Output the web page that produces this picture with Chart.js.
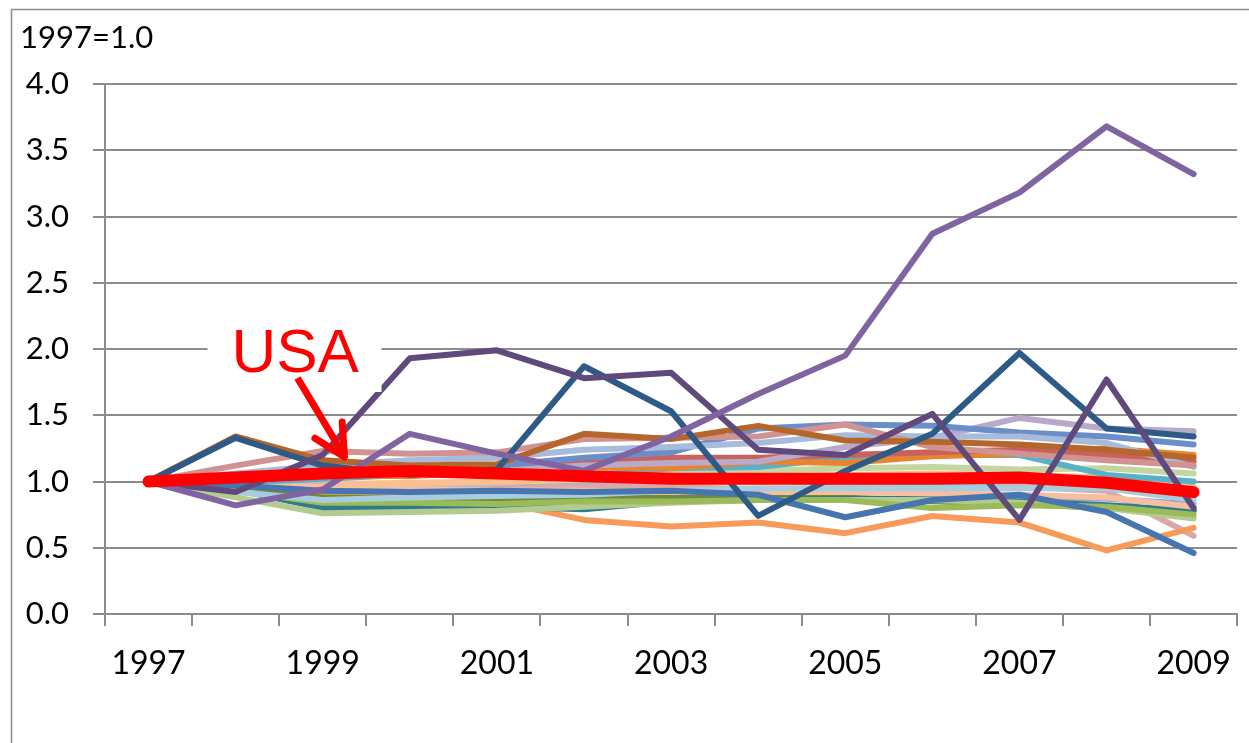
<!DOCTYPE html>
<html>
<head>
<meta charset="utf-8">
<script src="https://cdn.jsdelivr.net/npm/chart.js@4.4.1/dist/chart.umd.min.js"></script>
<style>
  html, body { margin: 0; padding: 0; background: #fff; }
  #wrap { width: 1249px; height: 743px; }
</style>
</head>
<body>
<div id="wrap"><canvas id="chart" width="1249" height="743"></canvas></div>
<script>
// index values, 1997 = 1.0
const years = ['1997','1998','1999','2000','2001','2002','2003','2004','2005','2006','2007','2008','2009'];
const yTicks = [0, 0.5, 1, 1.5, 2, 2.5, 3, 3.5, 4];
const baseNote = '1997=1.0';

const usa         = [1.00,1.03,1.06,1.08,1.06,1.04,1.02,1.02,1.02,1.02,1.03,0.99,0.92];
const purpleRise  = [1.00,0.82,0.94,1.36,1.21,1.08,1.34,1.66,1.95,2.87,3.18,3.68,3.32];
const darkPurple  = [1.00,0.92,1.20,1.93,1.99,1.78,1.82,1.24,1.20,1.51,0.71,1.77,0.80];
const darkBlue    = [1.00,1.33,1.12,1.05,1.09,1.87,1.53,0.74,1.08,1.36,1.97,1.40,1.34];
const steelBlue   = [1.00,0.97,0.93,0.92,0.93,0.92,0.93,0.90,0.73,0.86,0.90,0.77,0.46];
const brown       = [1.00,1.34,1.16,1.12,1.13,1.36,1.32,1.42,1.31,1.30,1.28,1.24,1.18];
const dustyPink   = [1.00,1.12,1.23,1.21,1.22,1.32,1.33,1.34,1.43,1.26,1.21,1.16,1.12];
const lightSteel  = [1.00,1.06,1.12,1.16,1.18,1.24,1.26,1.29,1.35,1.34,1.34,1.29,1.11];
const cornflower  = [1.00,1.04,1.08,1.10,1.12,1.18,1.22,1.40,1.43,1.42,1.37,1.34,1.28];
const lavender    = [1.00,1.02,1.05,1.06,1.08,1.12,1.14,1.15,1.26,1.33,1.48,1.40,1.38];
const salmon      = [1.00,1.03,1.07,1.09,1.10,1.14,1.18,1.18,1.20,1.22,1.24,1.20,1.15];
const orange      = [1.00,1.02,1.05,1.04,1.08,1.11,1.10,1.15,1.14,1.19,1.21,1.25,1.20];
const cyan        = [1.00,0.99,1.02,1.05,1.07,1.04,1.10,1.11,1.18,1.20,1.20,1.05,1.00];
const lightGreen  = [1.00,1.05,1.10,1.10,1.09,1.07,1.07,1.08,1.10,1.11,1.09,1.10,1.06];
const lightBlue   = [1.00,0.92,0.86,0.88,0.89,0.90,0.93,0.95,0.95,0.95,0.95,0.95,0.86];
const peach       = [1.00,0.97,0.96,0.94,0.93,0.93,0.92,0.92,0.92,0.91,0.90,0.88,0.81];
const green       = [1.00,0.93,0.84,0.84,0.83,0.85,0.85,0.86,0.86,0.80,0.82,0.81,0.75];
const sage        = [1.00,0.88,0.76,0.77,0.78,0.81,0.84,0.86,0.86,0.86,0.84,0.80,0.72];
const darkTeal    = [1.00,0.94,0.80,0.80,0.81,0.79,0.85,0.86,0.87,0.87,0.85,0.82,0.78];
const olive       = [1.00,0.95,0.88,0.87,0.86,0.88,0.88,0.89,0.88,0.85,0.83,0.80,0.78];
const orangeLow   = [1.00,0.97,0.92,0.89,0.85,0.71,0.66,0.69,0.61,0.74,0.69,0.48,0.65];
const pinkLow     = [1.00,0.98,0.97,0.90,0.95,0.96,0.96,0.94,0.95,0.94,0.96,0.93,0.59];
const periwinkle  = [1.00,0.95,0.90,0.89,0.88,0.88,0.87,0.86,0.86,0.86,0.88,0.87,0.83];
const skyBlue     = [1.00,0.96,0.91,0.93,0.95,0.97,1.00,1.01,0.99,0.98,0.97,0.96,0.88];
const lightOrange = [1.00,0.99,0.98,0.99,1.00,1.01,1.02,1.04,1.05,1.06,1.05,1.03,0.96];
const rose        = [1.00,1.01,0.99,0.97,0.98,0.99,1.00,1.00,1.01,1.02,1.01,0.98,0.90];

// arrow tip of the USA callout, in data units (category index, value)
const usaNote = { text: 'USA', at: 2.25, value: 1.185 };

// first one is drawn on top
const series = [
  [usa, '#ff0000', 12],
  [purpleRise, '#8064a2'], [darkPurple, '#604a7b'], [darkBlue, '#2e5a87'],
  [steelBlue, '#4775b0'], [brown, '#b5672b'], [dustyPink, '#d09391'],
  [lightSteel, '#a7bbdb'], [cornflower, '#6a8fc8'], [lavender, '#b9aac9'],
  [salmon, '#c9625f'], [orange, '#e8842f'], [cyan, '#5bb0c9'],
  [lightGreen, '#c4d6a0'], [lightBlue, '#a6ccdd'], [peach, '#f6c0a0'],
  [green, '#9bbb59'], [sage, '#b3cb90'], [darkTeal, '#2f7a8c'],
  [olive, '#6e8a3a'], [orangeLow, '#f79b5a'], [pinkLow, '#dba8a8'],
  [periwinkle, '#8fa3d1'], [skyBlue, '#8cc2d8'], [lightOrange, '#fac08f'],
  [rose, '#e6b9b8']
];

const gray = '#8c8c8c';

const notes = {
  id: 'notes',
  beforeDraw(chart) {
    const c = chart.ctx;
    c.save();
    c.strokeStyle = gray;
    c.lineWidth = 1.5;
    c.strokeRect(11.5, 9.5, 1400, 900);
    c.fillStyle = '#000';
    c.font = '31px Lato';
    c.textBaseline = 'alphabetic';
    c.fillText(baseNote, 20, 48);
    c.restore();
  },
  afterDatasetsDraw(chart) {
    const c = chart.ctx;
    const tx = chart.scales.x.getPixelForValue(usaNote.at);
    const ty = chart.scales.y.getPixelForValue(usaNote.value);
    const sx = tx - 47, sy = ty - 79;
    c.save();
    // white text box
    c.fillStyle = '#fff';
    c.fillRect(sx - 90, sy - 62, 174, 76);
    c.fillStyle = '#ff0000';
    c.font = '62px "Liberation Sans", Arial, sans-serif';
    c.fillText(usaNote.text, sx - 66, sy - 6);
    // arrow
    c.strokeStyle = '#ff0000';
    c.lineWidth = 7;
    c.lineCap = 'butt';
    c.beginPath();
    c.moveTo(sx, sy);
    c.lineTo(tx - 2, ty - 4);
    c.stroke();
    const ang = Math.atan2(sy - ty, sx - tx);
    c.lineCap = 'round';
    c.lineJoin = 'round';
    c.beginPath();
    c.moveTo(tx + 35 * Math.cos(ang - 0.47), ty + 35 * Math.sin(ang - 0.47));
    c.lineTo(tx, ty);
    c.lineTo(tx + 35 * Math.cos(ang + 0.47), ty + 35 * Math.sin(ang + 0.47));
    c.stroke();
    c.restore();
  }
};

new Chart(document.getElementById('chart'), {
  type: 'line',
  data: {
    labels: years,
    datasets: series.map(([vals, col, w]) => ({
      data: vals,
      borderColor: col,
      backgroundColor: col,
      borderWidth: w || 6,
      pointRadius: 0,
      tension: 0,
      borderCapStyle: 'round',
      borderJoinStyle: 'round'
    }))
  },
  options: {
    responsive: false,
    animation: false,
    layout: { padding: { left: 0, top: 84, right: 7, bottom: 0 } },
    plugins: { legend: { display: false }, tooltip: { enabled: false } },
    scales: {
      x: {
        offset: true,
        afterFit: s => { s.height = 129; },
        grid: { drawOnChartArea: false, drawTicks: true, tickLength: 12, color: gray, lineWidth: 2, offset: true },
        border: { display: true, color: gray, width: 2 },
        ticks: {
          autoSkip: false, maxRotation: 0, padding: 18,
          color: '#000', font: { family: 'Lato', size: 32 },
          callback: (v, i) => (i % 2 === 0 ? years[i] : '')
        }
      },
      y: {
        min: 0, max: 4,
        afterFit: s => { s.width = 105; },
        afterBuildTicks: s => { s.ticks = yTicks.map(v => ({ value: v })); },
        grid: { color: gray, lineWidth: 2, tickLength: 12 },
        border: { display: true, color: gray, width: 2 },
        ticks: {
          padding: 24, color: '#000', font: { family: 'Lato', size: 31 },
          callback: v => v.toFixed(1)
        }
      }
    }
  },
  plugins: [notes]
});
</script>
</body>
</html>
